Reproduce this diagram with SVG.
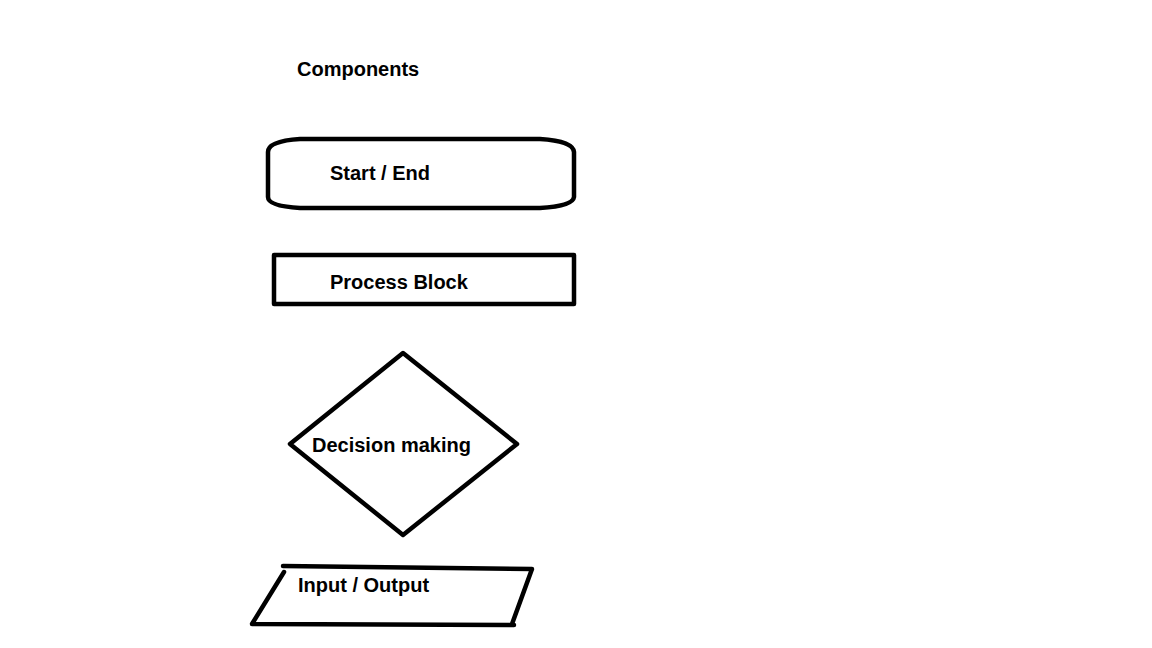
<svg xmlns="http://www.w3.org/2000/svg" width="1152" height="648" viewBox="0 0 1152 648">
<style>
.s{fill:none;stroke:#000;stroke-width:4.5;stroke-linejoin:round;stroke-linecap:round}
.t{font-family:"Liberation Sans",Arial,sans-serif;font-weight:bold;font-size:20px;fill:#000}
</style>
<rect width="1152" height="648" fill="#fff"/>
<text class="t" x="297" y="76">Components</text>
<g id="start-end">
<path class="s" d="M268,152 Q268,141 300,139 L540,139 Q573,141 574,152 L574,197 Q573,206 540,208 L300,208 Q268,206 268,197 Z"/>
<text class="t" x="330" y="180">Start / End</text>
</g>
<g id="process">
<rect class="s" x="274" y="255" width="300" height="49" stroke-linejoin="miter"/>
<text class="t" x="330" y="289">Process Block</text>
</g>
<g id="decision">
<path class="s" d="M403,353 L517,444 L403,535 L290,444 Z"/>
<text class="t" x="312" y="452">Decision making</text>
</g>
<g id="io">
<path class="s" d="M283,566 L532,569 L512,624 M514,625 L252,624 L284,572"/>
<text class="t" x="298" y="592">Input / Output</text>
</g>
<g id="connectors"></g>
</svg>
